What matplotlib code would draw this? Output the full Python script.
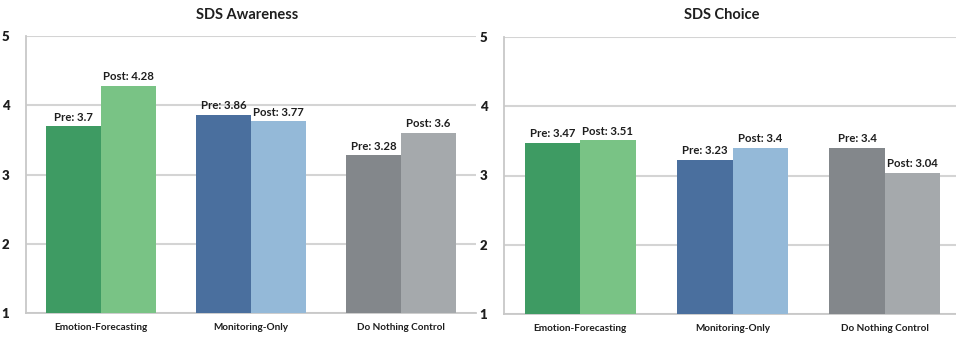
import matplotlib
matplotlib.use("Agg")
from matplotlib import pyplot as plt
import numpy as np

groups = ["Emotion-Forecasting", "Monitoring-Only", "Do Nothing Control"]

awareness_pre = [3.7, 3.86, 3.28]
awareness_post = [4.28, 3.77, 3.6]
choice_pre = [3.47, 3.23, 3.4]
choice_post = [3.51, 3.4, 3.04]

pre_colors = ["#3e9b63", "#4a6f9e", "#83878b"]
post_colors = ["#79c385", "#94b9d8", "#a5a9ac"]

plt.rcParams['font.family'] = ['Lato', 'DejaVu Sans']

fig = plt.figure(figsize=(9.56, 3.41), dpi=100)
fig.set_facecolor("white")

W, H = 956, 341


def px_axes(x0, x1, y_top, y_bot):
    return fig.add_axes([x0 / W, 1 - y_bot / H, (x1 - x0) / W, (y_bot - y_top) / H])


ax1 = px_axes(26, 476, 36, 313)
ax2 = px_axes(504, 961, 37, 314)

width = 0.365
x = np.arange(len(groups))

for ax, pre, post, title, tx in [
    (ax1, awareness_pre, awareness_post, "SDS Awareness", 247),
    (ax2, choice_pre, choice_post, "SDS Choice", 722),
]:
    b1 = ax.bar(x - width / 2, np.array(pre) - 1, width, bottom=1, color=pre_colors, zorder=3)
    b2 = ax.bar(x + width / 2, np.array(post) - 1, width, bottom=1, color=post_colors, zorder=3)
    for bars, vals, lab in [(b1, pre, "Pre"), (b2, post, "Post")]:
        for rect, v in zip(bars, vals):
            ax.text(rect.get_x() + rect.get_width() / 2, v + 0.05, f"{lab}: {v:g}",
                    ha="center", va="bottom", fontsize=8.2, fontweight="bold", color="#1e1e1e")
    ax.set_xlim(-0.5, 2.5)
    ax.set_ylim(1, 5)
    ax.set_yticks([1, 2, 3, 4, 5])
    ax.set_xticks(x)
    ax.set_xticklabels(groups, fontsize=7.2, fontweight="bold", color="#1e1e1e")
    ax.tick_params(axis='x', length=0, pad=7)
    ax.tick_params(axis='y', length=0, pad=12, labelsize=9.5, labelcolor="#1e1e1e")
    for t in ax.get_yticklabels():
        t.set_fontweight("heavy")
    ax.yaxis.grid(color="#d4d4d4", linewidth=1.5, zorder=0)
    ax.set_axisbelow(True)
    ax.spines['top'].set_visible(False)
    ax.spines['right'].set_visible(False)
    ax.spines['left'].set_color("#c8c8c8")
    ax.spines['bottom'].set_color("#c8c8c8")
    ax.spines['left'].set_linewidth(1.3)
    ax.spines['bottom'].set_linewidth(1.3)
    fig.text(tx / W, 1 - 15 / H, title, ha="center", va="center",
             fontsize=10.5, fontweight="bold", color="#1e1e1e")

fig.savefig("out.png", dpi=100, facecolor="white")
